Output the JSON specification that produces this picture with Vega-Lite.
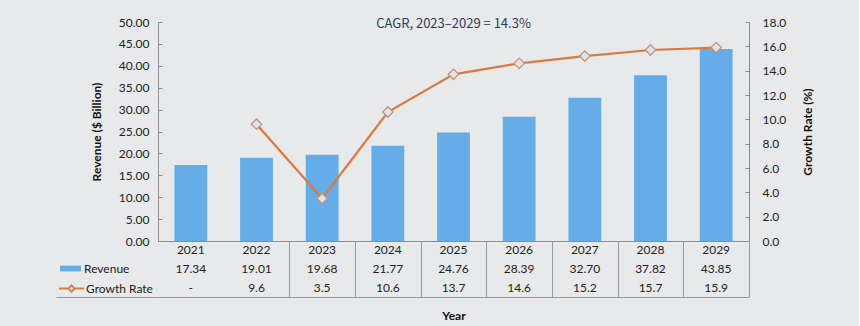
{
  "$schema": "https://vega.github.io/schema/vega-lite/v6.json",
  "background": "#e8e9eb",
  "padding": {"left": 55, "top": 16, "right": 45, "bottom": 10},
  "spacing": 0,
  "bounds": "flush",
  "data": {"values": [
    {"year": 2021, "revenue": 17.34, "growth": null},
    {"year": 2022, "revenue": 19.01, "growth": 9.6},
    {"year": 2023, "revenue": 19.68, "growth": 3.5},
    {"year": 2024, "revenue": 21.77, "growth": 10.6},
    {"year": 2025, "revenue": 24.76, "growth": 13.7},
    {"year": 2026, "revenue": 28.39, "growth": 14.6},
    {"year": 2027, "revenue": 32.70, "growth": 15.2},
    {"year": 2028, "revenue": 37.82, "growth": 15.7},
    {"year": 2029, "revenue": 43.85, "growth": 15.9}
  ]},
  "vconcat": [
    {
      "width": 591,
      "height": 219,
      "title": {"text": "CAGR, 2023\u20132029 = 14.3%", "anchor": "middle", "frame": "group", "offset": -15, "font": "Noto Sans CJK KR", "fontSize": 13, "fontWeight": "normal", "color": "#2e3b58"},
      "encoding": {
        "x": {"field": "year", "type": "ordinal", "scale": {"paddingInner": 0.5, "paddingOuter": 0.25}, "axis": {"labels": false, "ticks": false, "title": null, "domainColor": "#8c8c8c"}}
      },
      "layer": [
        {
          "mark": {"type": "bar"},
          "encoding": {
            "y": {"field": "revenue", "type": "quantitative", "scale": {"domain": [0, 50]}, "axis": {"orient": "left", "values": [0,5,10,15,20,25,30,35,40,45,50], "format": ".2f", "title": "Revenue ($ Billion)", "titleFontWeight": "bold", "tickSize": -4, "labelPadding": 13, "titlePadding": 15}},
            "fill": {"datum": "Revenue", "type": "nominal", "scale": {"range": ["#64ade8"]}, "legend": {"orient": "none", "legendX": -98, "legendY": 236, "title": null, "symbolType": "M-1,-0.28H1V0.28H-1Z", "symbolSize": 441, "symbolStrokeWidth": 0, "labelFont": "Lato", "labelFontSize": 12, "labelColor": "#222", "padding": 0, "labelOffset": 3}}
          }
        },
        {
          "mark": {"type": "line", "strokeWidth": 2.2},
          "encoding": {
            "y": {"field": "growth", "type": "quantitative", "scale": {"domain": [0, 18]}, "axis": {"orient": "right", "values": [0,2,4,6,8,10,12,14,16,18], "format": ".1f", "title": "Growth Rate (%)", "titleFontWeight": "bold", "titleAngle": 270, "tickSize": -4, "labelPadding": 17, "titlePadding": 29}},
            "stroke": {"datum": "Growth Rate", "type": "nominal", "scale": {"range": ["#dc7a3e"]}, "legend": {"orient": "none", "legendX": -100, "legendY": 253, "title": null, "symbolType": "M-1,0H-0.25M0.25,0H1M0,-0.25L0.25,0L0,0.25L-0.25,0Z", "symbolSize": 625, "symbolStrokeWidth": 1.8, "symbolStrokeColor": "#dc7a3e", "symbolFillColor": "#e4e6ea", "labelFont": "Lato", "labelFontSize": 12, "labelColor": "#222", "padding": 0, "labelOffset": 1}}
          }
        },
        {
          "mark": {"type": "point", "shape": "diamond", "size": 110, "filled": true, "fill": "#dfe3ea", "stroke": "#c0967c", "strokeWidth": 1.3, "opacity": 1},
          "encoding": {
            "y": {"field": "growth", "type": "quantitative", "scale": {"domain": [0, 18]}, "axis": null}
          }
        }
      ],
      "resolve": {"scale": {"y": "independent", "fill": "independent", "stroke": "independent"}}
    },
    {
      "width": 591,
      "height": 56,
      "encoding": {
        "x": {"field": "year", "type": "ordinal", "scale": {"paddingInner": 0, "paddingOuter": 0}, "axis": {"title": "Year", "titleFontWeight": "bold", "titlePadding": 13, "labels": false, "ticks": false, "domain": false, "grid": true, "gridColor": {"condition": {"test": "datum.extra", "value": "transparent"}, "value": "#999"}, "tickBand": "extent", "values": [2022,2023,2024,2025,2026,2027,2028,2029]}}
      },
      "layer": [
        {
          "mark": {"type": "text"},
          "encoding": {
            "y": {"datum": "Year", "type": "nominal", "scale": {"domain": ["Year", "Revenue", "Growth Rate"], "paddingInner": 0, "paddingOuter": 0}, "axis": {"title": null, "labels": false, "domain": false, "ticks": true, "tickSize": 102, "tickColor": {"condition": {"test": "datum.extra", "value": "transparent"}, "value": "#999"}, "grid": true, "gridColor": {"condition": {"test": "datum.extra", "value": "transparent"}, "value": "#999"}, "tickBand": "extent", "values": ["Growth Rate"]}},
            "text": {"field": "year", "type": "nominal"}
          }
        },
        {
          "mark": {"type": "text"},
          "encoding": {
            "y": {"datum": "Revenue", "type": "nominal"},
            "text": {"field": "revenue", "type": "quantitative", "format": ".2f"}
          }
        },
        {
          "mark": {"type": "text"},
          "encoding": {
            "y": {"datum": "Growth Rate", "type": "nominal"},
            "text": {"condition": {"test": "datum.growth == null", "value": "-"}, "field": "growth", "type": "quantitative", "format": ".1f"}
          }
        }
      ]
    }
  ],
  "config": {
    "view": {"stroke": null},
    "axis": {"labelFont": "Lato", "labelFontSize": 12, "labelColor": "#222", "titleFont": "Lato", "titleFontSize": 12, "titleColor": "#111", "domainColor": "#8c8c8c", "tickColor": "#8c8c8c", "grid": false},
    "text": {"font": "Lato", "fontSize": 12, "color": "#222"}
  }
}
